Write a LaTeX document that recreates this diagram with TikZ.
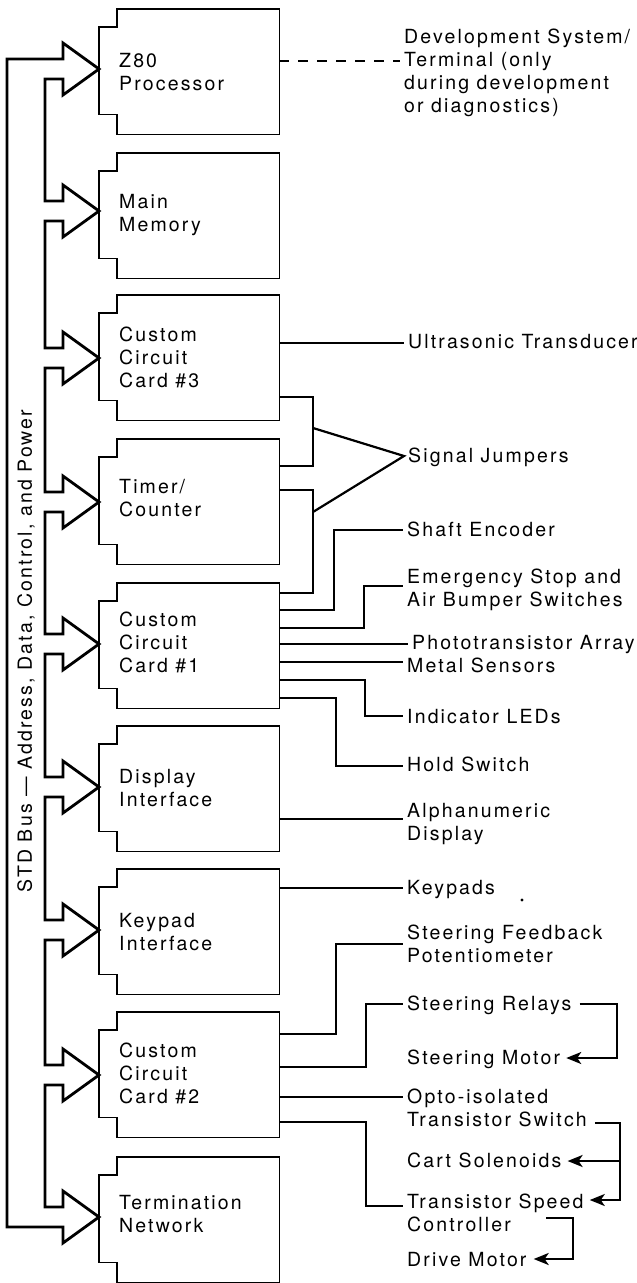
\documentclass[tikz,border=0pt]{standalone}
\usepackage{fontspec}
\setmainfont{TeX Gyre Heros}[LetterSpace=11]
\usetikzlibrary{arrows.meta}
\newcommand\cardoutline[1]{%
  \draw[outline] ([xshift=18pt]#1.north west) -- (#1.north east) -- (#1.south east)
    -- ([xshift=18pt]#1.south west) -- ++(0,-20) -- ++(-18,0)
    -- ([yshift=-18pt]#1.north west) -- ++(18,0) -- cycle;}
\begin{document}
\begin{tikzpicture}[x=1pt,y=-1pt,
  card/.style={draw=none,inner sep=0,minimum width=180pt,minimum height=125pt,anchor=north west},
  outline/.style={line width=1.8pt,line join=miter},
  ctext/.style={inner sep=0,anchor=base west,align=left,font=\fontsize{19.5}{23}\selectfont},
  lbl/.style={inner sep=4pt,anchor=base west,align=left,font=\fontsize{19.5}{23}\selectfont},
  wire/.style={line width=2.2pt},
  devline/.style={line width=2.2pt,dash pattern=on 10pt off 9pt},
  arrowwire/.style={-{Stealth[length=15pt,width=12pt,inset=4pt]}},
  bus/.style={line width=2.8pt,line join=miter}]
\useasboundingbox (0,0) rectangle (637,1283);
\fill[white] (0,0) rectangle (637,1283);

% bus with arrows (one closed path)
\draw[bus] (7,59) \foreach \t in {69,211,358,502,644,787,930,1075,1217} {
   -- (45,\t-10) -- (63,\t-10) -- (63,\t-26) -- (99,\t) -- (63,\t+26) -- (63,\t+10) -- (45,\t+10) }
   -- (7,1227) -- cycle;

\node[font=\fontsize{19.5}{23}\selectfont, rotate=90, inner sep=0] (bus) at (26,651)
  {STD Bus — Address, Data, Control, and Power};

% cards
\node[card] (z80) at (99,9) {};
\node[card] (mm) at (99,153) {};
\node[card] (c3) at (99,295) {};
\node[card] (tc) at (99,439) {};
\node[card] (c1) at (99,583) {};
\node[card] (di) at (99,726) {};
\node[card] (ki) at (99,869) {};
\node[card] (c2) at (99,1012) {};
\node[card] (tn) at (99,1157) {};
\foreach \c in {z80,mm,c3,tc,c1,di,ki,c2,tn} {\cardoutline{\c}}

% (base anchor of a multi-line node = baseline of its last line)
\node[ctext] (z80t) at (119,90) {Z80\\Processor};
\node[ctext] (mmt) at (119,231) {Main\\Memory};
\node[ctext] (c3t) at (119,387) {Custom\\Circuit\\Card \#3};
\node[ctext] (tct) at (119,516) {Timer/\\Counter};
\node[ctext] (c1t) at (119,672) {Custom\\Circuit\\Card \#1};
\node[ctext] (dit) at (119,806) {Display\\Interface};
\node[ctext] (kit) at (119,950) {Keypad\\Interface};
\node[ctext] (c2t) at (119,1103) {Custom\\Circuit\\Card \#2};
\node[ctext] (tnt) at (119,1232) {Termination\\Network};

% labels
\node[lbl] (dev) at (400,112) {Development System/\\Terminal (only\\during development\\or diagnostics)};
\node[lbl] (ut) at (404,348) {Ultrasonic Transducer};
\node[lbl] (sj) at (404,462) {Signal Jumpers};
\node[lbl] (se) at (403,536) {Shaft Encoder};
\node[lbl] (es) at (403,606) {Emergency Stop and\\Air Bumper Switches};
\node[lbl] (pa) at (408,649) {Phototransistor Array};
\node[lbl] (ms) at (403,672) {Metal Sensors};
\node[lbl] (il) at (403,723) {Indicator LEDs};
\node[lbl] (hs) at (403,771) {Hold Switch};
\node[lbl] (ad) at (403,840) {Alphanumeric\\Display};
\node[lbl] (kp) at (403,894) {Keypads};
\node[lbl] (sf) at (403,962) {Steering Feedback\\Potentiometer};
\node[lbl] (sr) at (403,1010) {Steering Relays};
\node[lbl] (sm) at (403,1064) {Steering Motor};
\node[lbl] (ot) at (403,1126) {Opto-isolated\\Transistor Switch};
\node[lbl] (cs) at (403,1167) {Cart Solenoids};
\node[lbl] (ts) at (403,1231) {Transistor Speed\\Controller};
\node[lbl] (dm) at (403,1266) {Drive Motor};

\coordinate (srE) at ([xshift=4pt]sr.east);
\coordinate (smE) at ([xshift=2pt]sm.east);
\coordinate (otE) at ([xshift=4pt]ot.east);
\coordinate (csE) at ([xshift=2pt]cs.east);
\coordinate (tsE) at ([xshift=2pt]ts.east);
\coordinate (dmE) at ([xshift=3pt]dm.east);
\coordinate (ctlE) at (546,1218);

% connectors
\draw[devline] (z80.east |- 0,61) -- (dev.west |- 0,61);
\draw[wire] (c3.east |- 0,343) -- (ut.west |- 0,343);
\draw[wire] (c3.east |- 0,397) -| (313,466) -- (tc.east |- 0,466);
\draw[wire] (tc.east |- 0,490) -| (313,593) -- (c1.east |- 0,593);
\draw[wire] (313,428) -- (sj.west |- 0,456) -- (313,512);
\draw[wire] (c1.east |- 0,610) -| (334,530) -- (se.west |- 0,530);
\draw[wire] (c1.east |- 0,628) -| (364,586) -- (es.west |- 0,586);
\draw[wire] (c1.east |- 0,644) -- (pa.west |- 0,644);
\draw[wire] (c1.east |- 0,662) -- (ms.west |- 0,662);
\draw[wire] (c1.east |- 0,680) -| (365,716) -- (il.west |- 0,716);
\draw[wire] (c1.east |- 0,698) -| (336,766) -- (hs.west |- 0,766);
\draw[wire] (di.east |- 0,819) -- (ad.west |- 0,819);
\draw[wire] (ki.east |- 0,888) -- (kp.west |- 0,888);
\draw[wire] (c2.east |- 0,1034) -| (336,944) -- (sf.west |- 0,944);
\draw[wire] (c2.east |- 0,1067) -| (366,1004) -- (sr.west |- 0,1004);
\draw[wire] (c2.east |- 0,1097) -- (ot.west |- 0,1097);
\draw[wire] (c2.east |- 0,1122) -| (366,1206) -- (ts.west |- 0,1206);
\draw[wire,arrowwire] (srE |- 0,1004) -- (617,1004) -- (617,1058) -- (smE |- 0,1058);
\draw[wire,arrowwire] (otE |- 0,1123) -- (620,1123) -- (620,1200) -- (tsE |- 0,1200);
\draw[wire,arrowwire] (620,1161) -- (csE |- 0,1161);
\draw[wire,arrowwire] (ctlE) -- (573,1218) -- (573,1259) -- (dmE |- 0,1259);

\fill (522,900) circle (1.7pt);
\end{tikzpicture}
\end{document}
